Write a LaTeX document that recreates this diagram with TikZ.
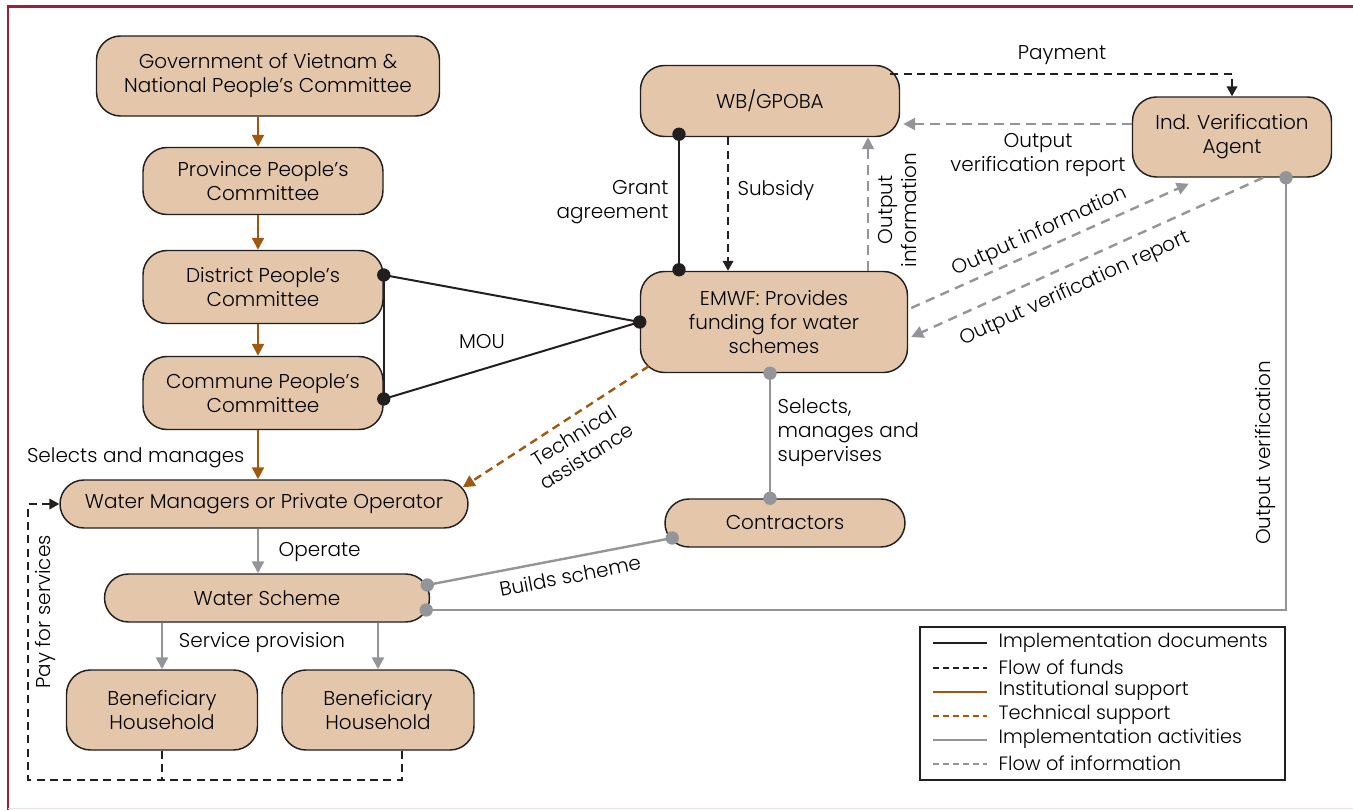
\documentclass[tikz,border=0pt]{standalone}
\usepackage{fontspec}
\IfFontExistsTF{Poppins Light}{\setmainfont{Poppins Light}}{\setmainfont{Poppins}}
\usetikzlibrary{arrows.meta,calc}
\definecolor{boxfill}{HTML}{E4C7AA}
\definecolor{boxline}{HTML}{231F20}
\definecolor{instorange}{HTML}{A0580F}
\definecolor{actgrey}{HTML}{939598}
\definecolor{framered}{HTML}{9E1F3A}
\definecolor{framepink}{HTML}{F2DFE5}
\newdimen\pxu \pxu=0.75pt
\newcommand{\diagfont}{\fontsize{15}{18}\selectfont}
\newcommand{\legfont}{\fontsize{14.5}{18}\selectfont}

\tikzset{
  unit/.style={draw=boxline, line width=1.1pt, fill=boxfill, rounded corners=18pt, align=center, inner sep=2pt},
  implline/.style={draw=boxline, line width=1.5pt},
  fundline/.style={draw=boxline, line width=1.5pt, dash pattern=on 6pt off 4pt},
  instline/.style={draw=instorange, line width=1.8pt},
  techline/.style={draw=instorange, line width=1.8pt, dash pattern=on 6pt off 4pt},
  actline/.style={draw=actgrey, line width=1.8pt},
  infoline/.style={draw=actgrey, line width=1.8pt, dash pattern=on 7pt off 5pt},
  arrowhead/.style={-{Triangle[length=9pt,width=9pt]}},
  smallhead/.style={-{Triangle[length=7.5pt,width=8pt]}},
  blackdot/.style={circle, fill=boxline, inner sep=0pt, minimum size=10pt},
  greydot/.style={circle, fill=actgrey, inner sep=0pt, minimum size=10pt},
  lbl/.style={inner sep=1pt, align=center},
  legtext/.style={inner sep=1pt, anchor=west, font=\legfont}
}

\begin{document}
\begin{tikzpicture}[x=0.75pt, y=-0.75pt, font=\diagfont]
\useasboundingbox (0,0) rectangle (1353,810);
% frame
\draw[framered, line width=2.2pt] (8,810) -- (8,6.5) -- (1353,6.5);
\draw[framepink, line width=1.2pt] (8,808.5) -- (1353,808.5);

% boxes
\node[unit, minimum width=343\pxu, minimum height=80\pxu] (gov) at (268,76) {Government of Vietnam \&\\National People's Committee};
\node[unit, minimum width=240\pxu, minimum height=67\pxu] (prov) at (263,181) {Province People's\\Committee};
\node[unit, minimum width=240\pxu, minimum height=73\pxu] (dist) at (263,287) {District People's\\Committee};
\node[unit, minimum width=240\pxu, minimum height=73\pxu] (comm) at (263,393) {Commune People's\\Committee};
\node[unit, minimum width=408\pxu, minimum height=48\pxu] (wmo) at (264,504) {Water Managers or Private Operator};
\node[unit, minimum width=325\pxu, minimum height=48\pxu] (ws) at (267,598) {Water Scheme};
\node[unit, minimum width=191\pxu, minimum height=80\pxu] (bh1) at (162,710) {Beneficiary\\Household};
\node[unit, minimum width=192\pxu, minimum height=80\pxu] (bh2) at (378,710) {Beneficiary\\Household};
\node[unit, minimum width=259\pxu, minimum height=71\pxu] (wb) at (770,101) {WB/GPOBA};
\node[unit, minimum width=267\pxu, minimum height=101\pxu] (emwf) at (774,322) {EMWF: Provides\\funding for water\\schemes};
\node[unit, minimum width=240\pxu, minimum height=48\pxu] (contr) at (785,523) {Contractors};
\node[unit, minimum width=199\pxu, minimum height=80\pxu] (iva) at (1232,137) {Ind. Verification\\Agent};

% helper points
\coordinate (spine) at (258,0);
\coordinate (distdot) at ($(dist.east)+(0,-12)$);
\coordinate (commdot) at ($(comm.east)+(0,6)$);
\coordinate (wbdot) at ($(wb.south)+(-91,-3)$);
\coordinate (emwfdot) at ($(emwf.north)+(-95,-1)$);
\coordinate (emwfbot) at ($(emwf.south)+(-4,0)$);
\coordinate (contrtop) at (emwfbot |- contr.north);
\coordinate (contrdot) at ($(contr.west)+(8,15)$);
\coordinate (wsdota) at ($(ws.east)+(-3,-13)$);
\coordinate (wsdotb) at ($(ws.east)+(-4,12)$);
\coordinate (ivadot) at ($(iva.south)+(54,0)$);
\coordinate (ivaleft) at ($(iva.west)+(0,-13)$);
\coordinate (payleft) at (28,780);

% institutional support
\draw[instline, arrowhead] (gov.south -| spine) -- (prov.north -| spine);
\draw[instline, arrowhead] (prov.south -| spine) -- (dist.north -| spine);
\draw[instline, arrowhead] (dist.south -| spine) -- (comm.north -| spine);
\draw[instline, arrowhead] (comm.south -| spine) -- (wmo.north -| spine);
\node[lbl, anchor=east] (selman) at (246,458) {Selects and manages};

% operation and service
\draw[actline, arrowhead] (wmo.south -| spine) -- (ws.north -| spine);
\node[lbl, anchor=west] (operate) at (277,552) {Operate};
\draw[actline, arrowhead] (ws.south -| bh1.north) -- (bh1.north);
\draw[actline, arrowhead] (ws.south -| bh2.north) -- (bh2.north);
\node[lbl] (servprov) at (262,643) {Service provision};

% pay for services
\draw[fundline] (bh1.south) -- (bh1.south |- payleft);
\draw[fundline, smallhead] ($(bh2.south)+(24,0)$) |- (payleft) |- (wmo.west);
\node[lbl, rotate=90] (payserv) at (45,612) {Pay for services};

% MOU
\draw[implline] (distdot) -- (commdot);
\draw[implline] (distdot) -- (emwf.west);
\draw[implline] (commdot) -- (emwf.west);
\node[lbl] (mou) at (482,341) {MOU};

% WB and EMWF
\draw[implline] (wbdot) -- (emwfdot);
\node[lbl, anchor=east, align=right] (grant) at (670,202) {Grant\\agreement};
\draw[fundline, smallhead] ($(wb.south)+(-42,0)$) -- ($(emwf.north)+(-46,0)$);
\node[lbl, anchor=west] (subsidy) at (736,191) {Subsidy};
\draw[infoline, arrowhead] ($(emwf.north)+(94,0)$) -- ($(wb.south)+(98,0)$);
\node[lbl, rotate=90] (outinfo) at (897,210) {Output\\information};

% WB and verification agent
\draw[fundline, smallhead] ($(wb.east)+(-10,-27)$) -| (iva.north);
\node[lbl] (payment) at (1062,55) {Payment};
\draw[infoline, arrowhead] (ivaleft) -- ($(ivaleft -| wb.east)+(3,0)$);
\node[lbl] (outrep) at (1038,155) {Output\\verification report};

% EMWF and verification agent
\draw[infoline, arrowhead] ($(emwf.east)+(3,-14)$) -- ($(iva.south west)+(57,6)$);
\node[lbl, rotate=24.5] (diaginfo) at (1040,232) {Output information};
\draw[infoline, arrowhead] ($(iva.south)+(31,0)$) -- ($(emwf.east)+(3,15)$);
\node[lbl, rotate=24.5] (diagrep) at (1075,289) {Output verification report};

% technical support
\draw[techline, arrowhead] ($(emwf.south west)+(9,-7)$) -- ($(wmo.north east)+(-6,8)$);
\node[lbl, rotate=32] (techass) at (580,446) {Technical\\assistance};

% implementation activities
\draw[actline] (emwfbot) -- (contrtop);
\node[lbl, anchor=north west, align=left] (selsup) at (776,397) {Selects,\\manages and\\supervises};
\draw[actline] (wsdota) -- (contrdot);
\node[lbl, rotate=11] (builds) at (570,576) {Builds scheme};
\draw[actline] (ivadot) |- (wsdotb);
\node[lbl, rotate=90] (outver) at (1265,453) {Output verification};

% dots
\node[blackdot] (d1) at (distdot) {};
\node[blackdot] (d2) at (commdot) {};
\node[blackdot] (d3) at (emwf.west) {};
\node[blackdot] (d4) at (wbdot) {};
\node[blackdot] (d5) at (emwfdot) {};
\node[greydot] (d6) at (emwfbot) {};
\node[greydot] (d7) at (contrtop) {};
\node[greydot] (d8) at (contrdot) {};
\node[greydot] (d9) at (wsdota) {};
\node[greydot] (d10) at (wsdotb) {};
\node[greydot] (d11) at (ivadot) {};

% legend
\draw[boxline, line width=0.9pt] (920,627) rectangle (1285,780);
\draw[implline] (933,643) -- (987,643);
\node[legtext] (leg1) at (997,643) {Implementation documents};
\draw[fundline, dash pattern=on 4.5pt off 3pt] (933,668) -- (987,668);
\node[legtext] (leg2) at (997,667) {Flow of funds};
\draw[instline] (933,692) -- (987,692);
\node[legtext] (leg3) at (997,691) {Institutional support};
\draw[techline, dash pattern=on 4.5pt off 3pt] (933,716) -- (987,716);
\node[legtext] (leg4) at (997,715) {Technical support};
\draw[actline] (933,740) -- (987,740);
\node[legtext] (leg5) at (997,739) {Implementation activities};
\draw[infoline, dash pattern=on 4.5pt off 3pt] (933,764) -- (987,764);
\node[legtext] (leg6) at (997,763) {Flow of information};
\end{tikzpicture}
\end{document}
